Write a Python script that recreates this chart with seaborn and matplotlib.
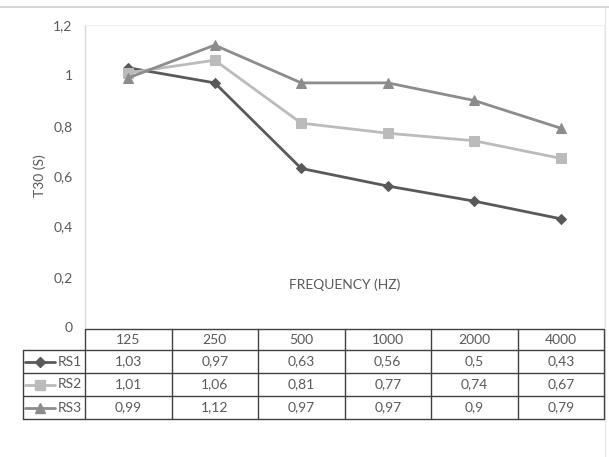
import matplotlib
matplotlib.use("Agg")
import matplotlib.pyplot as plt
import seaborn as sns
from matplotlib.lines import Line2D
from matplotlib.ticker import FuncFormatter

# data
freqs = ["125", "250", "500", "1000", "2000", "4000"]
series_names = ["RS1", "RS2", "RS3"]
rs1 = [1.03, 0.97, 0.63, 0.56, 0.5, 0.43]
rs2 = [1.01, 1.06, 0.81, 0.77, 0.74, 0.67]
rs3 = [0.99, 1.12, 0.97, 0.97, 0.9, 0.79]
y_ticks = [0, 0.2, 0.4, 0.6, 0.8, 1.0, 1.2]

colors = ["#595959", "#BBBBBB", "#8C8C8C"]
markers = ["D", "s", "^"]
msizes = [5.5, 6.5, 6.5]

sns.set_theme(style="white")
plt.rcParams['font.family'] = ['Lato', 'DejaVu Sans']
text_col = "#595959"
fs = 10

W, H = 609, 457
fig = plt.figure(figsize=(W / 100, H / 100), dpi=100)

x0, x1 = 85, 604
y_top, y_zero = 25, 327
ax = fig.add_axes([x0 / W, 1 - y_zero / H, (x1 - x0) / W, (y_zero - y_top) / H])

for vals, c, m, ms in zip([rs1, rs2, rs3], colors, markers, msizes):
    sns.lineplot(x=list(range(len(freqs))), y=vals, ax=ax, color=c, marker=m,
                 markersize=ms, markeredgecolor=c, linewidth=2.0)

ax.set_xlim(-0.5, len(freqs) - 0.5)
ax.set_ylim(0, 1.2)
ax.set_yticks(y_ticks)
ax.yaxis.set_major_formatter(FuncFormatter(lambda v, p: f"{v:g}".replace(".", ",")))
ax.tick_params(axis="y", labelsize=fs, colors=text_col, length=0, pad=9)
ax.set_xticks([])
ax.spines["bottom"].set_visible(False)
for s in ["top", "right"]:
    ax.spines[s].set_color("#F0F0F0")
    ax.spines[s].set_linewidth(0.8)
ax.spines["left"].set_color("#D9D9D9")
ax.spines["left"].set_linewidth(1)
ax.set_ylabel("T30 (S)", fontsize=fs, color=text_col, labelpad=5)
ax.text(0.5, 0.14, "FREQUENCY (HZ)", transform=ax.transAxes, ha="center",
        va="center", fontsize=fs, color=text_col)

# overlay for table and frame
ov = fig.add_axes([0, 0, 1, 1], facecolor="none")
ov.set_xlim(0, W)
ov.set_ylim(H, 0)
ov.axis("off")

ov.plot([0, W], [7, 7], color="#D0D0D0", lw=1.2)
ov.plot([605, 605], [7, H], color="#E8E8E8", lw=1)

col_w = (x1 - x0) / len(freqs)
leg_x = 23
row_y = [329, 350, 373, 396, 419]
lc = "#404040"
lw = 1.0
ov.plot([x0, x1], [row_y[0], row_y[0]], color=lc, lw=lw)
for yy in row_y[1:]:
    ov.plot([leg_x, x1], [yy, yy], color=lc, lw=lw)
ov.plot([leg_x, leg_x], [row_y[1], row_y[-1]], color=lc, lw=lw)
for i in range(len(freqs) + 1):
    xx = x0 + i * col_w
    ov.plot([xx, xx], [row_y[0], row_y[-1]], color=lc, lw=lw)

for i, f in enumerate(freqs):
    ov.text(x0 + (i + 0.5) * col_w, (row_y[0] + row_y[1]) / 2, f, ha="center",
            va="center", fontsize=fs, color=text_col)

for r, (name, vals) in enumerate(zip(series_names, [rs1, rs2, rs3])):
    yc = (row_y[r + 1] + row_y[r + 2]) / 2
    ov.add_line(Line2D([leg_x + 2, leg_x + 32], [yc, yc], color=colors[r], lw=2.0))
    ov.plot([leg_x + 17], [yc], marker=markers[r], color=colors[r],
            markersize=msizes[r], markeredgecolor=colors[r])
    ov.text(leg_x + 35, yc, name, ha="left", va="center", fontsize=fs, color=text_col)
    for i, v in enumerate(vals):
        ov.text(x0 + (i + 0.5) * col_w, yc, f"{v:g}".replace(".", ","),
                ha="center", va="center", fontsize=fs, color=text_col)

fig.savefig("out.png", dpi=100)
